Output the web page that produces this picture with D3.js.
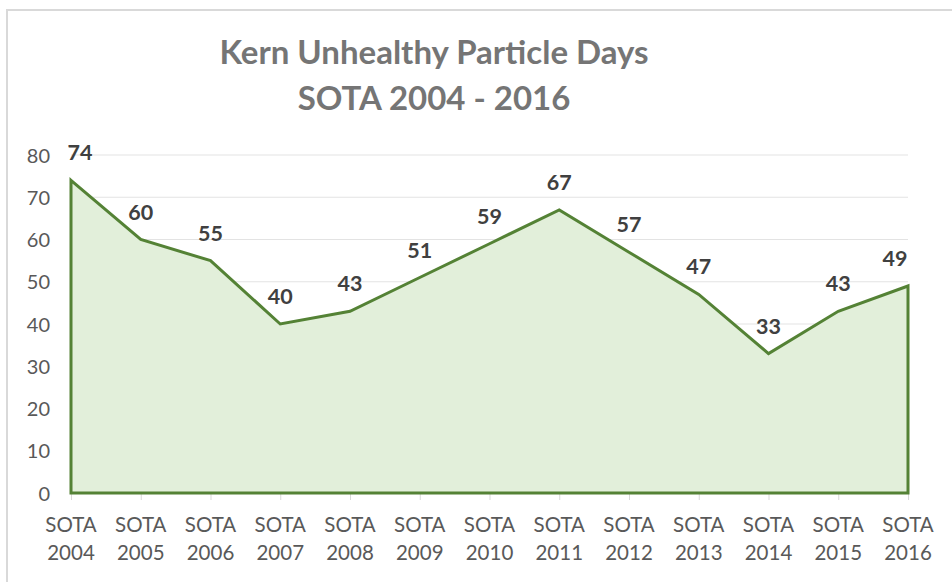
<!DOCTYPE html>
<html><head><meta charset="utf-8">
<script src="https://cdn.jsdelivr.net/npm/d3@7"></script>
<style>body{margin:0;background:#fff;} svg{display:block;}</style>
</head><body>
<svg id="c" width="952" height="582"></svg>
<script>
const categories = ["2004","2005","2006","2007","2008","2009","2010","2011","2012","2013","2014","2015","2016"];
const values = [74,60,55,40,43,51,59,67,57,47,33,43,49];
const yTicks = [0,10,20,30,40,50,60,70,80];
const titleLines = ["Kern Unhealthy Particle Days","SOTA 2004 - 2016"];

const svg = d3.select("#c");
const font = "Lato, 'Open Sans', sans-serif";

// outer frame
svg.append("rect").attr("x",7).attr("y",10).attr("width",960).attr("height",600)
  .attr("fill","none").attr("stroke","#d9d9d9").attr("stroke-width",2);

const x = d3.scalePoint().domain(categories).range([71,908]);
const y = d3.scaleLinear().domain([0,80]).range([493,155]);

// gridlines
svg.append("g").selectAll("line").data(yTicks.filter(d=>d>0)).join("line")
  .attr("x1",71).attr("x2",908).attr("y1",d=>y(d)).attr("y2",d=>y(d))
  .attr("stroke","#e3e3e3").attr("stroke-width",1.2);

// y axis labels
const ya = svg.append("g").attr("transform","translate(50,0)")
  .call(d3.axisLeft(y).tickValues(yTicks).tickSize(0).tickPadding(0));
ya.select(".domain").remove();
ya.selectAll("text").attr("font-family",font).attr("font-size",20).attr("fill","#595959").attr("dy","0.35em");

// x axis
const xa = svg.append("g").attr("transform","translate(0,493)")
  .call(d3.axisBottom(x).tickSize(7).tickFormat(""));
xa.select(".domain").attr("stroke","#d9d9d9");
xa.selectAll(".tick line").attr("stroke","#d9d9d9");
const xl = svg.append("g");
categories.forEach(c=>{
  const t = xl.append("text").attr("x",x(c)).attr("text-anchor","middle")
    .attr("font-family",font).attr("font-size",20.5).attr("fill","#595959");
  t.append("tspan").attr("x",x(c)).attr("y",532).text("SOTA");
  t.append("tspan").attr("x",x(c)).attr("y",560).text(c);
});

// area
const data = categories.map((c,i)=>({c, v: values[i]}));
const area = d3.area().x(d=>x(d.c)).y0(y(0)).y1(d=>y(d.v));
svg.append("path").attr("d",area(data)+"Z")
  .attr("fill","#e2efda").attr("stroke","#548235").attr("stroke-width",3).attr("stroke-linejoin","miter");

// data labels
svg.append("g").selectAll("text").data(data).join("text")
  .attr("x",(d,i)=> x(d.c) + (i===0?9:(i===data.length-1?-13:0)))
  .attr("y",d=>y(d.v)-20)
  .attr("text-anchor","middle")
  .attr("font-family",font).attr("font-size",21.5).attr("font-weight","bold").attr("fill","#404040")
  .text(d=>d.v);

// title
svg.append("g").selectAll("text").data(titleLines).join("text")
  .attr("x",434).attr("y",(d,i)=>64+i*46).attr("text-anchor","middle")
  .attr("font-family",font).attr("font-size",33).attr("font-weight","bold").attr("fill","#757575")
  .text(d=>d);
</script>
</body></html>
